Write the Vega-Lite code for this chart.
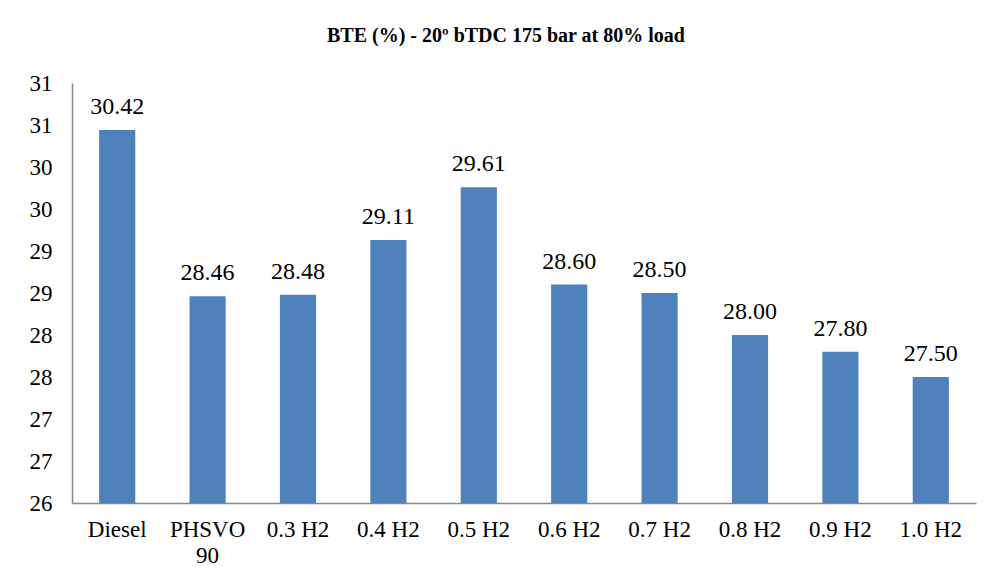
{
  "$schema": "https://vega.github.io/schema/vega-lite/v6.json",
  "autosize": "none",
  "width": 904,
  "height": 420,
  "padding": {"left": 72, "top": 83, "right": 17, "bottom": 79},
  "background": "white",
  "title": {
    "text": "BTE (%) - 20º bTDC 175 bar at 80% load",
    "font": "Liberation Serif",
    "fontSize": 20,
    "fontWeight": "bold",
    "color": "black",
    "anchor": "middle",
    "frame": "group",
    "dx": -18,
    "offset": 26
  },
  "data": {
    "values": [
      {"fuel": "Diesel", "bte": 30.44, "label": "30.42"},
      {"fuel": "PHSVO 90", "bte": 28.46, "label": "28.46"},
      {"fuel": "0.3 H2", "bte": 28.48, "label": "28.48"},
      {"fuel": "0.4 H2", "bte": 29.13, "label": "29.11"},
      {"fuel": "0.5 H2", "bte": 29.76, "label": "29.61"},
      {"fuel": "0.6 H2", "bte": 28.6, "label": "28.60"},
      {"fuel": "0.7 H2", "bte": 28.5, "label": "28.50"},
      {"fuel": "0.8 H2", "bte": 28.0, "label": "28.00"},
      {"fuel": "0.9 H2", "bte": 27.8, "label": "27.80"},
      {"fuel": "1.0 H2", "bte": 27.5, "label": "27.50"}
    ]
  },
  "encoding": {
    "x": {
      "field": "fuel",
      "type": "nominal",
      "sort": null,
      "scale": {"paddingInner": 0.6, "paddingOuter": 0.3},
      "axis": {
        "title": null,
        "labelAngle": 0,
        "labelFont": "Liberation Serif",
        "labelFontSize": 23,
        "labelColor": "black",
        "labelPadding": 15,
        "labelLineHeight": 26,
        "labelExpr": "datum.value == 'PHSVO 90' ? ['PHSVO', '90'] : datum.value",
        "ticks": false,
        "domainColor": "#888888",
        "domainWidth": 1.5
      }
    },
    "y": {
      "field": "bte",
      "type": "quantitative",
      "scale": {"domain": [26, 31], "zero": false, "nice": false},
      "axis": {
        "title": null,
        "values": [26, 26.5, 27, 27.5, 28, 28.5, 29, 29.5, 30, 30.5, 31],
        "format": ".0f",
        "grid": false,
        "ticks": false,
        "labelFont": "Liberation Serif",
        "labelFontSize": 23,
        "labelColor": "black",
        "labelPadding": 20,
        "domainColor": "#888888",
        "domainWidth": 1.5
      }
    }
  },
  "layer": [
    {"mark": {"type": "bar", "color": "#4F81BD", "clip": true}},
    {
      "mark": {
        "type": "text",
        "font": "Liberation Serif",
        "fontSize": 24,
        "color": "black",
        "baseline": "alphabetic",
        "dy": -16
      },
      "encoding": {"text": {"field": "label"}}
    }
  ],
  "config": {"view": {"stroke": null}}
}
